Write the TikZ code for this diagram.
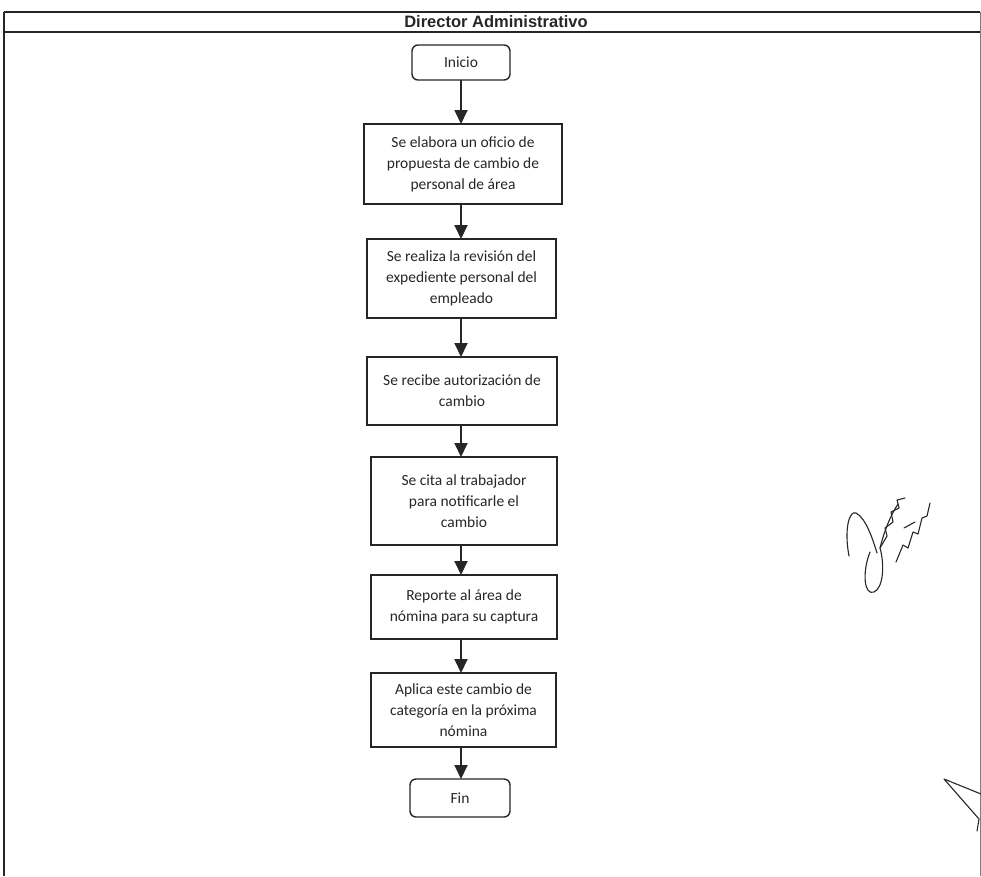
\documentclass[tikz,border=0pt]{standalone}
\usepackage{fontspec}
\setmainfont{Carlito}
\newfontfamily\headfont{Liberation Sans}
\usetikzlibrary{arrows.meta}
\definecolor{ink}{gray}{0.15}
\begin{document}
\begin{tikzpicture}[x=1pt,y=-1pt,
  every node/.style={inner sep=0pt,outer sep=0pt},
  procbox/.style={draw=ink,line width=1.4pt,rectangle,align=center,
    font=\fontsize{15.5}{21}\selectfont,text=ink},
  termbox/.style={procbox,rounded corners=6pt},
  arr/.style={draw=ink,line width=1.8pt,-{Triangle[width=13pt,length=14pt]}},
  frame/.style={draw=ink,line width=1.1pt},
  sideline/.style={draw=ink!60,line width=0.8pt},
  sig/.style={draw=ink,line width=1.1pt,line cap=round,line join=round}]
\useasboundingbox (0,0) rectangle (981,876);
% frame
\coordinate (tl) at (4,12);
\coordinate (tr) at (980,12);
\coordinate (hl) at (4,32);
\coordinate (hr) at (980,32);
\coordinate (bl) at (4,876);
\coordinate (br) at (980,876);
\draw[frame] (tl) -- (tr);
\draw[frame] (hl) -- (hr);
\draw[frame] (tl) -- (bl);
\draw[sideline] (tr) -- (br);
\node[font=\headfont\bfseries\fontsize{16.5}{18}\selectfont,text=ink] (head) at (496,22) {Director Administrativo};
% nodes
\coordinate (spine) at (461,0);
\node[termbox,minimum width=98pt,minimum height=35pt] (inicio) at (461,62.5) {Inicio};
\node[procbox,minimum width=198pt,minimum height=80pt] (b1) at (463,164) {Se elabora un oficio de\\propuesta de cambio de\\personal de área};
\node[procbox,minimum width=189pt,minimum height=79pt] (b2) at (461.5,278.5) {Se realiza la revisión del\\expediente personal del\\empleado};
\node[procbox,minimum width=190pt,minimum height=68pt] (b3) at (462,391) {Se recibe autorización de\\cambio};
\node[procbox,minimum width=186pt,minimum height=88pt] (b4) at (464,501) {Se cita al trabajador\\para notificarle el\\cambio};
\node[procbox,minimum width=186pt,minimum height=64pt] (b5) at (464,607) {Reporte al área de\\nómina para su captura};
\node[procbox,minimum width=185pt,minimum height=74pt] (b6) at (463.5,710) {Aplica este cambio de\\categoría en la próxima\\nómina};
\node[termbox,minimum width=100pt,minimum height=38pt] (fin) at (460,798) {Fin};
% connectors
\draw[arr] (inicio.south -| spine) -- (b1.north -| spine);
\draw[arr] (b1.south -| spine) -- (b2.north -| spine);
\draw[arr] (b2.south -| spine) -- (b3.north -| spine);
\draw[arr] (b3.south -| spine) -- (b4.north -| spine);
\draw[arr] (b4.south -| spine) -- (b5.north -| spine);
\draw[arr] (b5.south -| spine) -- (b6.north -| spine);
\draw[arr] (b6.south -| spine) -- (fin.north -| spine);
% signature (handwritten)
\draw[sig] (849,556) .. controls (844,530) and (849,510) .. (856,513) .. controls (866,518) and (873,540) .. (877,553);
\draw[sig] (870,552) .. controls (862,572) and (864,596) .. (874,592) .. controls (883,588) and (885,566) .. (880,548) .. controls (884,532) and (890,516) .. (898,504);
\draw[sig] (880,548) -- (887,536) -- (885,528) -- (893,522) -- (891,512) -- (899,508) -- (897,500) -- (905,498);
\draw[sig] (896,562) -- (903,545) -- (908,548) -- (913,532) -- (918,534) -- (922,518) -- (927,516) -- (930,503);
\draw[sig] (904,528) -- (915,522);
% stroke at lower right
\draw[sig] (981,794) -- (944,779) -- (979,819) -- (977,831);
\end{tikzpicture}
\end{document}
